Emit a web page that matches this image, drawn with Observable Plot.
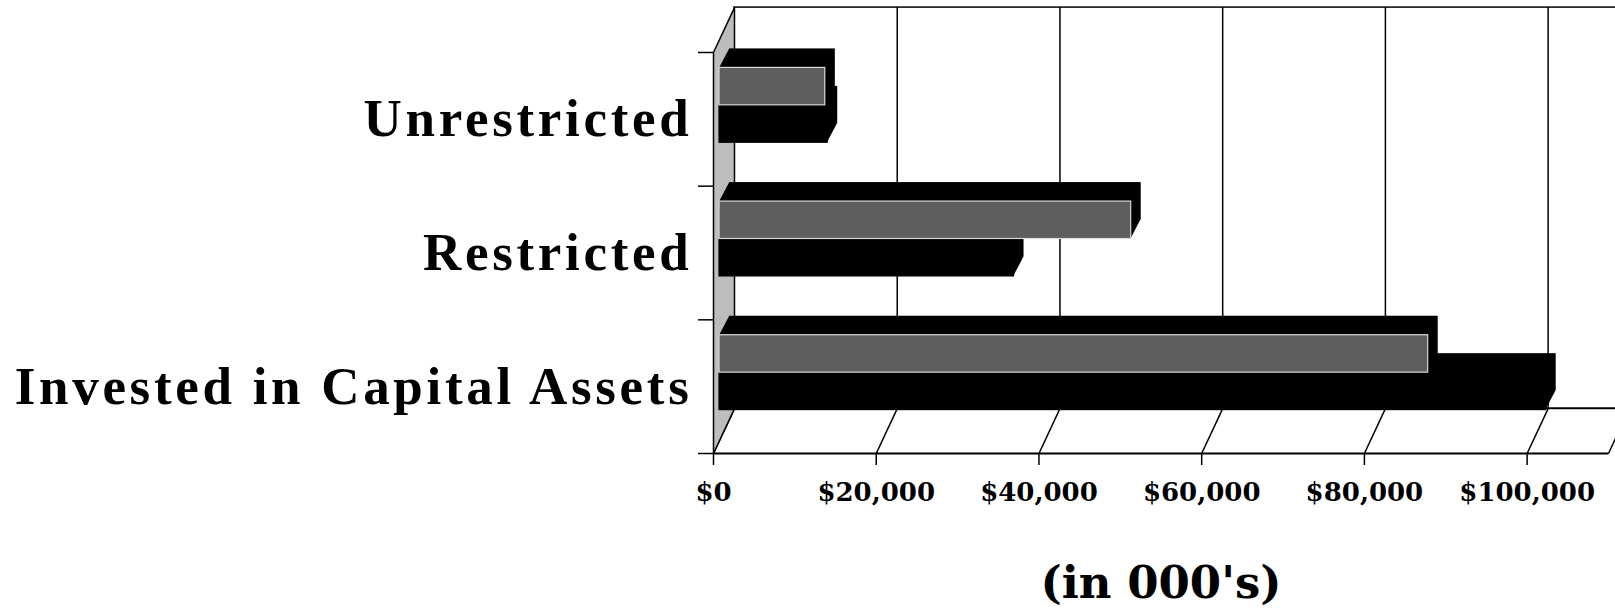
<!DOCTYPE html>
<html>
<head>
<meta charset="utf-8">
<script src="https://cdn.jsdelivr.net/npm/d3@7"></script>
<script src="https://cdn.jsdelivr.net/npm/@observablehq/plot@0.6"></script>
<style>
html, body { margin: 0; padding: 0; background: #fff; overflow: hidden; }
g[aria-label="y-axis tick label"] text { letter-spacing: 3.7px; }
</style>
</head>
<body>
<div id="chart"></div>
<script>
// ---- data ----
const categories = ["Unrestricted", "Restricted", "Invested in Capital Assets"];
const seriesGrey = [13000, 50600, 87100];   // upper (grey-faced) bars
const seriesBlack = [13300, 36200, 101600]; // lower (black) bars
const xTicks = [0, 20000, 40000, 60000, 80000, 100000];
const xMax = 110000;
const axisTitle = "(in 000's)";

// ---- 3D box geometry (depth of the box, in scale units) ----
const DX = 2580, DY = 0.336;
const nCat = categories.length;
const BAR_H = 0.28;
const rows = categories.map((c, i) => ({category: c, center: nCat - 0.5 - i}));
const greyBars = rows.map((r, i) => ({category: r.category, value: seriesGrey[i], y1: r.center, y2: r.center + BAR_H}));
const blackBars = rows.map((r, i) => ({category: r.category, value: seriesBlack[i], y1: r.center - BAR_H, y2: r.center}));
const labelOf = new Map(rows.map(r => [r.center, r.category]));

function prism(data, faceFill, faceStroke) {
  const marks = [];
  const steps = 19;
  for (let k = steps; k >= 1; k--) {
    marks.push(Plot.rect(data, {x1: 0, x2: "value", y1: "y1", y2: "y2", fill: "black",
      dx: 6 + 10 * k / steps, dy: -14 - 19 * k / steps}));
  }
  marks.push(Plot.rect(data, {x1: 0, x2: "value", y1: "y1", y2: "y2", fill: faceFill,
    stroke: faceStroke, strokeWidth: 1.2, dx: 6, dy: -14}));
  return marks;
}

const serif = "'Liberation Serif', 'Times New Roman', serif";
const wide = "'DejaVu Serif', serif";

const chart = Plot.plot({
  width: 1615,
  height: 608,
  marginLeft: 713,
  marginRight: 7,
  marginTop: 52,
  marginBottom: 155,
  x: {domain: [0, xMax], label: null},
  y: {domain: [0, nCat], label: null},
  style: {background: "white", color: "black", overflow: "visible"},
  marks: [
    // back wall
    Plot.rect([0], {x1: DX, x2: xMax + DX, y1: DY, y2: nCat + DY, fill: "white", stroke: "black", strokeWidth: 1.5}),
    Plot.ruleX(xTicks.slice(1), {x: d => d + DX, y1: DY, y2: nCat + DY, stroke: "black", strokeWidth: 1.5}),
    // floor
    Plot.link(xTicks.concat([xMax]), {x1: d => d, y1: 0, x2: d => d + DX, y2: DY, stroke: "black", strokeWidth: 1.5}),
    Plot.link([0], {x1: DX, x2: xMax + DX, y1: DY, y2: DY, stroke: "black", strokeWidth: 1.5}),
    Plot.link([0], {x1: 0, x2: xMax, y1: 0, y2: 0, stroke: "black", strokeWidth: 2}),
    // left wall
    Plot.line([{x: 0, y: 0}, {x: 0, y: nCat}, {x: DX, y: nCat + DY}, {x: DX, y: DY}, {x: 0, y: 0}],
      {x: "x", y: "y", fill: "#bdbdbd", stroke: "black", strokeWidth: 1.5}),
    // bars
    ...prism(blackBars, "black", "black"),
    ...prism(greyBars, "#5e5e5e", "#d8d8d8"),
    // axes
    Plot.axisY([0, 1, 2, 3], {tickSize: 15, tickFormat: () => "", label: null, strokeWidth: 1.5}),
    Plot.axisY(rows.map(r => r.center), {tickSize: 0, tickPadding: 21, tickFormat: d => labelOf.get(d),
      label: null, fontSize: 53, fontWeight: "bold", fontFamily: serif}),
    Plot.axisX(xTicks, {tickSize: 12, tickPadding: 17, tickFormat: d3.format("$,"), label: null,
      fontSize: 26, fontWeight: "bold", fontFamily: wide, strokeWidth: 1.5}),
    Plot.text([axisTitle], {x: xMax / 2, frameAnchor: "bottom", dy: 144, text: d => d,
      fontSize: 45, fontWeight: "bold", fontFamily: wide, fill: "black"})
  ]
});
document.getElementById("chart").appendChild(chart);
</script>
</body>
</html>
